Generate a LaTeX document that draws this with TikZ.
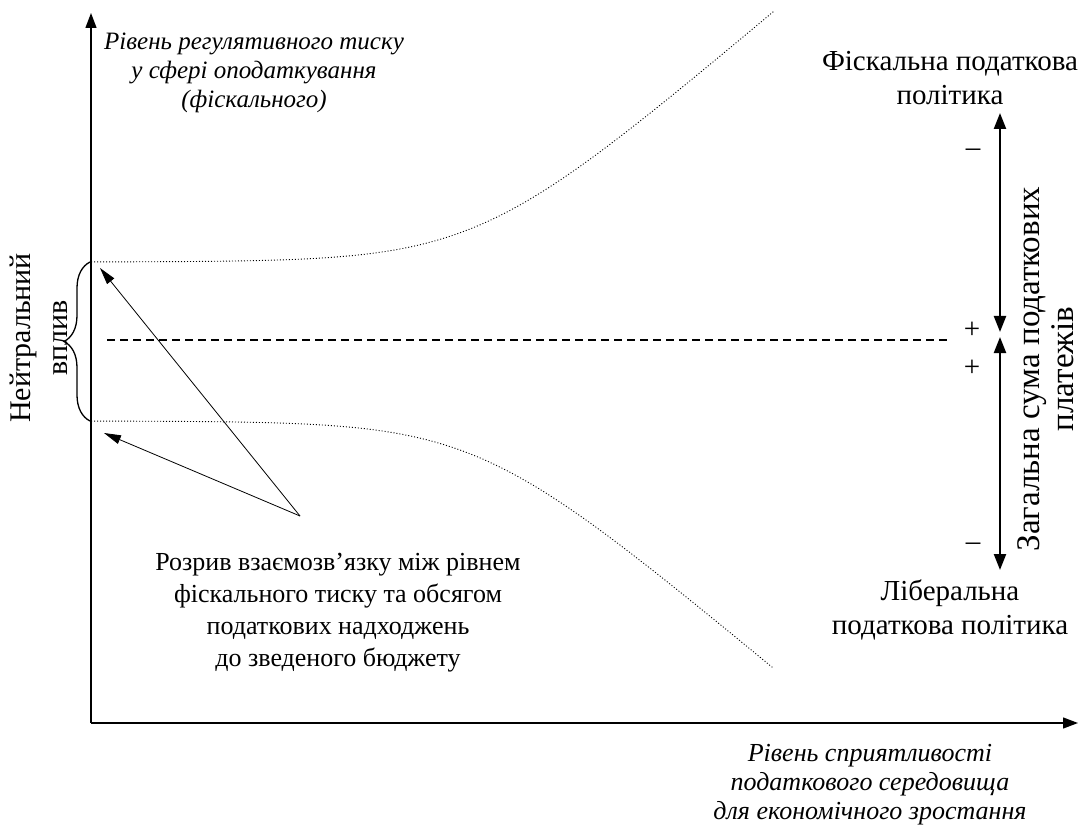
\documentclass[tikz,border=0pt]{standalone}
\usepackage{fontspec}
\setmainfont{Liberation Serif}
\usetikzlibrary{arrows.meta,decorations.pathreplacing,positioning}

\begin{document}
\begin{tikzpicture}[
            x=1pt, y=-1pt,
            axisline/.style={
                line width=1.3pt,
                -{Triangle[length=15pt,width=11pt]}
            },
            bound/.style={
                line width=0.9pt,
                dash pattern=on 1pt off 2pt
            },
            middle/.style={
                line width=1.2pt,
                dash pattern=on 8pt off 5pt
            },
            pointer/.style={
                line width=0.8pt,
                -{Triangle[length=17pt,width=9pt]}
            },
            sumarrow/.style={
                line width=2.2pt,
                {Triangle[length=16pt,width=12pt]}-{Triangle[length=16pt,width=12pt]}
            },
            txt/.style={
                font=\fontsize{26}{32}\selectfont,
                align=center,
                inner sep=0pt
            },
            bigtxt/.style={
                txt,
                font=\fontsize{29}{34}\selectfont
            },
            itxt/.style={
                txt,
                font=\fontsize{25}{29}\selectfont\itshape
            },
        ]

            \useasboundingbox (0,0) rectangle (1079,826);

            % axes
            \coordinate (origin) at (91,723);
            \coordinate (ytip) at (91,13);
            \coordinate (xtip) at (1078,723);
            \draw[axisline] (origin) -- (ytip);
            \draw[axisline] (origin) -- (xtip);

            \node[itxt] (ylabel) at (254,73) {Рівень регулятивного тиску\\у сфері оподаткування\\(фіскального)};
            \node[itxt, font=\fontsize{26}{29}\selectfont\itshape] (xlabel) at (870,785) {Рівень сприятливості\\податкового середовища\\для економічного зростання};

            % bounds of the neutral zone
            \draw[bound] plot[domain=0:1, samples=80] ({91+684*\x}, {262-52*ln(1+exp((\x-0.565)/0.09))});
            \draw[bound] plot[domain=0:1, samples=80] ({91+682*\x}, {421+51*ln(1+exp((\x-0.565)/0.09))});

            \coordinate (dashL) at (107,340);
            \coordinate (dashR) at (948,340);
            \draw[middle] (dashL) -- (dashR);

            \draw[line width=1.3pt, decorate, decoration={brace, amplitude=26pt}] (90,421) -- (90,262);
            \node[txt, rotate=90, font=\fontsize{30}{37}\selectfont] (neutral) at (39,338) {Нейтральний\\вплив};

            % gap note
            \node[txt] (gap) at (338,613) {Розрив взаємозв’язку між рівнем\\фіскального тиску та обсягом\\податкових надходжень\\до зведеного бюджету};
            \coordinate (gapSrc) at (300,516);
            \coordinate (upTip) at (100,268);
            \coordinate (lowTip) at (104,433);
            \draw[pointer] (gapSrc) -- (upTip);
            \draw[pointer] (gapSrc) -- (lowTip);

            % right side
            \node[bigtxt] (fiscal) at (950,78) {Фіскальна податкова\\політика};
            \node[bigtxt] (liberal) at (950,610) {Ліберальна\\податкова політика};

            \coordinate (fTop) at (1000,113);
            \coordinate (fBot) at (1000,332);
            \coordinate (lTop) at (1000,337);
            \coordinate (lBot) at (1000,570);
            \draw[sumarrow] (fTop) -- (fBot);
            \draw[sumarrow] (lTop) -- (lBot);

            \node[bigtxt] (minusA) at (973,153) {–};
            \node[bigtxt] (plusA) at (972,330) {+};
            \node[bigtxt] (plusB) at (972,368) {+};
            \node[bigtxt] (minusB) at (973,547) {–};

            \node[txt, rotate=90, font=\fontsize{33}{34}\selectfont] (total) at (1046,369) {Загальна сума податкових\\платежів};
        \end{tikzpicture}
\end{document}
